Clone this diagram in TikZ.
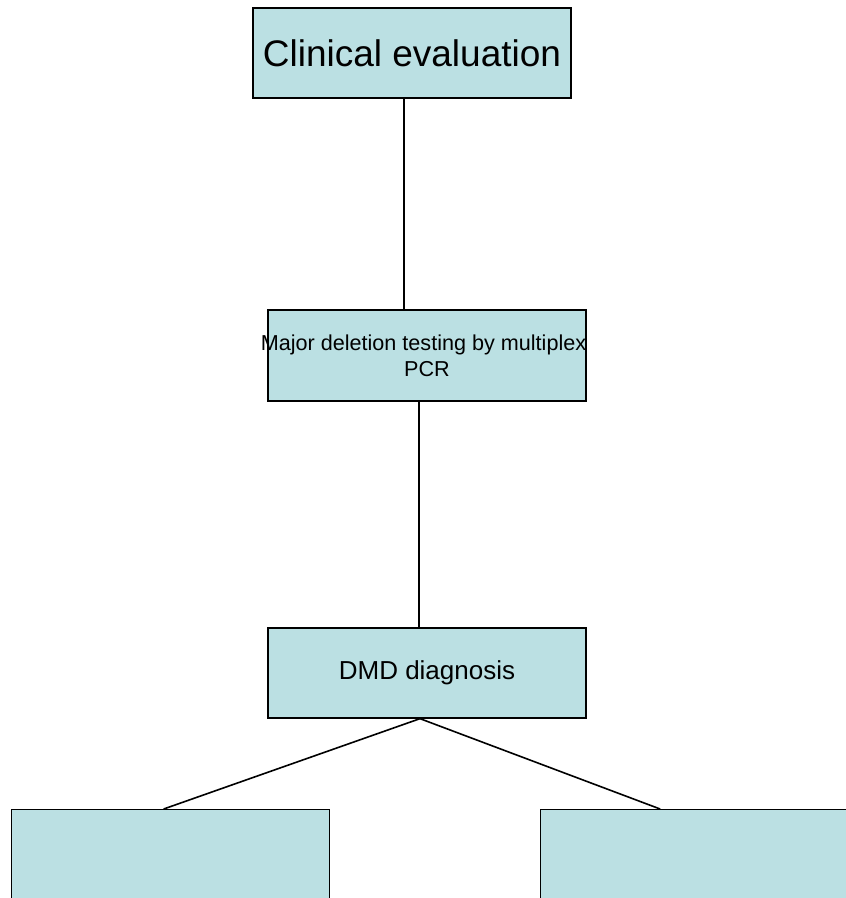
\documentclass[tikz,border=0pt]{standalone}
\usepackage{fontspec}
\setmainfont{Liberation Sans}
\definecolor{boxfill}{RGB}{187,224,227}
\begin{document}
\begin{tikzpicture}[x=1pt,y=-1pt,
  flowbox/.style={draw=black, line width=1.3pt, fill=boxfill, rectangle, inner sep=0pt, align=center},
  link/.style={draw=black, line width=1.6pt}]
\useasboundingbox (0,0) rectangle (846,898);
\clip (0,0) rectangle (846,898);
\node[flowbox, minimum width=318pt, minimum height=90pt, font=\fontsize{37}{40}\selectfont] (clin) at (412,53) {Clinical evaluation};
\node[flowbox, minimum width=318pt, minimum height=91pt, font=\fontsize{21.6}{26}\selectfont] (major) at (427,355.5) {\makebox[0pt]{\hspace{-7pt}Major deletion testing by multiplex}\\PCR};
\node[flowbox, minimum width=318pt, minimum height=90pt, font=\fontsize{26}{30}\selectfont] (dmd) at (427,673) {DMD diagnosis};
\node[flowbox, minimum width=318pt, minimum height=120pt, anchor=north west] (left) at (11,809) {};
\node[flowbox, minimum width=318pt, minimum height=120pt, anchor=north west] (right) at (540,809) {};
\draw[link] ([xshift=-8pt]clin.south) -- ([xshift=-8pt]clin.south |- major.north);
\draw[link] ([xshift=-8pt]major.south) -- ([xshift=-8pt]major.south |- dmd.north);
\draw[link] ([xshift=-7pt]dmd.south) -- ([xshift=-7pt]left.north);
\draw[link] ([xshift=-7pt]dmd.south) -- ([xshift=-39.5pt]right.north);
\end{tikzpicture}
\end{document}
